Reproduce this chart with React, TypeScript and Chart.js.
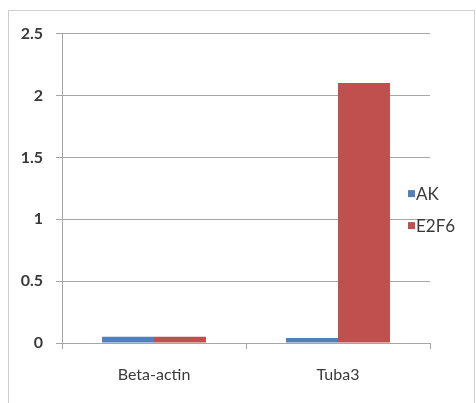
import React, { useEffect, useRef } from "react";
import { Chart, registerables } from "chart.js";

Chart.register(...registerables);

const categories = ["Beta-actin", "Tuba3"];
const akValues = [0.05, 0.04];
const e2f6Values = [0.05, 2.1];
const seriesNames = ["AK", "E2F6"];
const yTickLabels = ["0", "0.5", "1", "1.5", "2", "2.5"];

const FONT = "Lato";
const TEXT = "#3a3a3a";
const GRID = "#a6a6a6";

const legendPlugin = {
  id: "insideLegend",
  afterDraw(chart: any) {
    const { ctx, chartArea } = chart;
    ctx.save();
    chart.data.datasets.forEach((ds: any, i: number) => {
      const y = chartArea.top + 160 + i * 32;
      const x = chartArea.right - 22;
      ctx.fillStyle = ds.backgroundColor;
      ctx.fillRect(x, y - 3.5, 7, 7);
      ctx.fillStyle = TEXT;
      ctx.font = `17px ${FONT}`;
      ctx.textBaseline = "middle";
      ctx.textAlign = "left";
      ctx.fillText(ds.label, x + 8, y + 1);
    });
    ctx.restore();
  },
};

export default function App() {
  const ref = useRef<HTMLCanvasElement>(null);
  useEffect(() => {
    const chart = new Chart(ref.current!, {
      type: "bar",
      data: {
        labels: categories,
        datasets: [
          { label: seriesNames[0], data: akValues, backgroundColor: "#4F81BD" },
          { label: seriesNames[1], data: e2f6Values, backgroundColor: "#C0504D" },
        ],
      },
      options: {
        animation: false,
        responsive: false,
        devicePixelRatio: 1,
        layout: { padding: { top: 20, right: 44, left: 0, bottom: 0 } },
        datasets: { bar: { categoryPercentage: 0.565, barPercentage: 1 } },
        plugins: { legend: { display: false }, tooltip: { enabled: false } },
        scales: {
          x: {
            offset: true,
            grid: { display: true, drawOnChartArea: false, color: GRID, tickLength: 6 },
            border: { color: GRID, width: 1 },
            ticks: { color: TEXT, font: { family: FONT, size: 16 }, padding: 16 },
            afterFit: (s: any) => {
              s.height = 60;
            },
          },
          y: {
            min: 0,
            max: 2.5,
            ticks: {
              stepSize: 0.5,
              color: TEXT,
              font: { family: FONT, size: 16, weight: "bold" },
              padding: 13,
              callback: (_v: any, i: number) => yTickLabels[i],
            },
            grid: { color: GRID, tickLength: 6 },
            border: { color: GRID, width: 1 },
            afterFit: (s: any) => {
              s.width = 53;
            },
          },
        },
      },
      plugins: [legendPlugin],
    } as any);
    return () => chart.destroy();
  }, []);
  return (
    <div
      style={{
        position: "fixed",
        left: 8,
        top: 10,
        width: 467,
        height: 400,
        boxSizing: "border-box",
        border: "1px solid #cfcfcf",
        background: "#fff",
        overflow: "hidden",
      }}
    >
      <canvas ref={ref} width={465} height={392} style={{ display: "block" }} />
    </div>
  );
}
